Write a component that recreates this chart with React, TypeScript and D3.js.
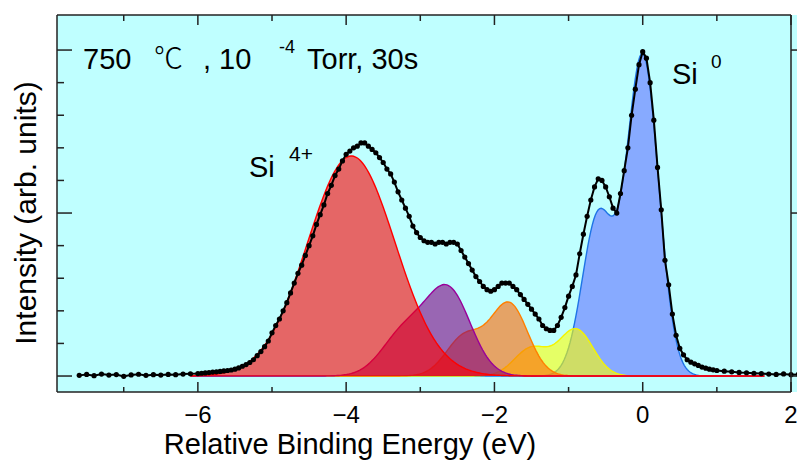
import React from "react";
import * as d3 from "d3";

const W = 797;
const H = 462;
// plot frame in page pixels
const frame = { left: 57, right: 791, top: 15, bottom: 392 };

// measured Si 2p spectrum (relative binding energy in eV, intensity in arb. units)
const energyEv = [
  -7.6, -7.5, -7.4, -7.3, -7.2, -7.1, -7.0, -6.9, -6.8, -6.7, -6.6, -6.5, -6.4, -6.3, -6.2, -6.1, -6.0,
  -5.95, -5.9, -5.85, -5.8, -5.75, -5.7, -5.65, -5.6, -5.55, -5.5, -5.45, -5.4, -5.35, -5.3, -5.25, -5.2, -5.15, -5.1, -5.05, -5.0,
  -4.95, -4.9, -4.85, -4.8, -4.75, -4.7, -4.65, -4.6, -4.55, -4.5, -4.45, -4.4, -4.35, -4.3, -4.25, -4.2, -4.15, -4.1, -4.05, -4.0,
  -3.95, -3.9, -3.85, -3.8, -3.75, -3.7, -3.65, -3.6, -3.55, -3.5, -3.45, -3.4, -3.35, -3.3, -3.25, -3.2, -3.15, -3.1, -3.05, -3.0,
  -2.95, -2.9, -2.85, -2.8, -2.75, -2.7, -2.65, -2.6, -2.55, -2.5, -2.45, -2.4, -2.35, -2.3, -2.25, -2.2, -2.15, -2.1, -2.05, -2.0,
  -1.95, -1.9, -1.85, -1.8, -1.75, -1.7, -1.65, -1.6, -1.55, -1.5, -1.45, -1.4, -1.35, -1.3, -1.25, -1.2, -1.15, -1.1, -1.05, -1.0,
  -0.95, -0.9, -0.85, -0.8, -0.75, -0.7, -0.65, -0.6, -0.55, -0.5, -0.45, -0.4, -0.35, -0.3, -0.25, -0.2, -0.15, -0.1, -0.05, 0.0,
  0.05, 0.1, 0.15, 0.2, 0.25, 0.3, 0.35, 0.4, 0.45, 0.5, 0.55, 0.6, 0.65, 0.7, 0.75, 0.8, 0.85, 0.9, 0.95, 1.0,
  1.1, 1.2, 1.3, 1.4, 1.5, 1.6, 1.7, 1.8, 1.9, 2.0, 2.1,
];
const intensity = [
  0.004, 0.01, 0.002, 0.012, 0.006, 0.009, -0.002, 0.007, 0.011, 0.004, 0.008, 0.006, 0.01, 0.008, 0.012, 0.014, 0.015,
  0.017, 0.019, 0.021, 0.024, 0.026, 0.028, 0.031, 0.034, 0.037, 0.042, 0.05, 0.06, 0.07, 0.083, 0.1, 0.125, 0.15, 0.18, 0.215, 0.265,
  0.31, 0.35, 0.4, 0.45, 0.51, 0.57, 0.63, 0.68, 0.74, 0.8, 0.86, 0.93, 0.99, 1.05, 1.12, 1.17, 1.23, 1.27, 1.32, 1.36,
  1.38, 1.4, 1.41, 1.43, 1.43, 1.41, 1.39, 1.37, 1.34, 1.31, 1.27, 1.24, 1.19, 1.13, 1.08, 1.03, 0.98, 0.92, 0.88, 0.85,
  0.83, 0.82, 0.82, 0.81, 0.82, 0.82, 0.81, 0.82, 0.82, 0.81, 0.77, 0.73, 0.69, 0.65, 0.61, 0.58, 0.55, 0.53, 0.52, 0.53,
  0.55, 0.57, 0.57, 0.57, 0.55, 0.53, 0.5, 0.47, 0.44, 0.41, 0.38, 0.35, 0.31, 0.29, 0.28, 0.28, 0.31, 0.36, 0.42, 0.49,
  0.55, 0.62, 0.75, 0.87, 0.98, 1.08, 1.16, 1.21, 1.2, 1.16, 1.1, 1.03, 1.0, 1.12, 1.26, 1.4, 1.6, 1.76, 1.91, 1.99,
  1.95, 1.8, 1.57, 1.28, 1.02, 0.71, 0.56, 0.38, 0.25, 0.17, 0.13, 0.1, 0.085, 0.075, 0.065, 0.055, 0.048, 0.042, 0.038, 0.034,
  0.03, 0.026, 0.022, 0.02, 0.017, 0.015, 0.012, 0.01, 0.013, 0.008, 0.01,
];

// fitted components, Si0 .. Si4+ (2p3/2 position, height, gaussian sigma, 2p1/2 share)
const componentPos = [0, -0.9, -1.8, -2.62, -3.93];
const componentAmp = [1.96, 0.285, 0.44, 0.52, 1.35];
const componentSigma = [0.215, 0.23, 0.25, 0.3, 0.59];
const componentRatio = [0.5, 0.6, 0.55, 0.5, 0];
const spinOrbitSplit = 0.6;
const componentFill = ["#6371ff", "#ffff00", "#ff6600", "#800080", "#ff0000"];
const componentStroke = ["#1e74e6", "#f4f400", "#ff7f00", "#990099", "#ff0000"];
const componentRange = [-6.1, 1.65];

const xMajor = [-6, -4, -2, 0, 2];
const xMinor = [-7, -5, -3, -1, 1];
const yMajor = [0, 1, 2];
const yMinor = [0.2, 0.4, 0.6, 0.8, 1.2, 1.4, 1.6, 1.8];

const FONT = "'Liberation Sans', Arial, 'Noto Sans CJK SC', sans-serif";

const x = d3.scaleLinear().domain([-7.9, 2.0]).range([frame.left, frame.right]);
const y = d3.scaleLinear().domain([-0.098, 2.215]).range([frame.bottom, frame.top]);

function componentValue(i: number, e: number) {
  const s2 = 2 * componentSigma[i] * componentSigma[i];
  const a = componentAmp[i];
  const d1 = e - componentPos[i];
  const d2 = e - (componentPos[i] - spinOrbitSplit);
  return a * Math.exp(-(d1 * d1) / s2) + a * componentRatio[i] * Math.exp(-(d2 * d2) / s2);
}

export default function App() {
  const grid = d3.range(componentRange[0], componentRange[1] + 1e-9, 0.02);
  const compArea = d3
    .area<number[]>()
    .x(d => x(d[0]))
    .y0(y(0))
    .y1(d => y(d[1]));
  const compLine = d3
    .line<number[]>()
    .x(d => x(d[0]))
    .y(d => y(d[1]));

  const points = energyEv.map((e, i) => [e, intensity[i]] as [number, number]);
  const dataLine = d3
    .line<[number, number]>()
    .x(d => x(d[0]))
    .y(d => y(d[1]));

  return (
    <svg width={W} height={H} style={{ display: "block", position: "absolute", left: 0, top: 0 }}>
      <rect x={0} y={0} width={W} height={H} fill="#ffffff" />
      <rect
        x={frame.left}
        y={frame.top}
        width={W - frame.left}
        height={frame.bottom - frame.top}
        fill="#bfffff"
      />

      {/* components, drawn from Si0 up to Si4+ so the red one sits on top */}
      {componentPos.map((_, i) => {
        const pts = grid.map(e => [e, componentValue(i, e)]);
        return (
          <g key={i}>
            <path d={compArea(pts) || ""} fill={componentFill[i]} fillOpacity={0.6} />
            <path d={compLine(pts) || ""} fill="none" stroke={componentStroke[i]} strokeWidth={1.4} />
          </g>
        );
      })}

      {/* measured data */}
      <path d={dataLine(points) || ""} fill="none" stroke="#000" strokeWidth={2} />
      {points.map((d, i) => (
        <circle key={i} cx={x(d[0])} cy={y(d[1])} r={2.6} fill="#000" />
      ))}

      {/* frame */}
      <g stroke="#222" strokeWidth={1.5} fill="none">
        <line x1={frame.left} x2={frame.left} y1={frame.top} y2={frame.bottom} />
        <line x1={frame.left} x2={frame.right} y1={frame.bottom} y2={frame.bottom} />
        <line x1={frame.left} x2={frame.right} y1={frame.top} y2={frame.top} />
        <line x1={frame.right} x2={frame.right} y1={frame.top} y2={frame.bottom} />
        {xMajor.map(t => (
          <g key={"xM" + t}>
            <line x1={x(t)} x2={x(t)} y1={frame.bottom} y2={frame.bottom - 10} />
            <line x1={x(t)} x2={x(t)} y1={frame.top} y2={frame.top + 10} />
          </g>
        ))}
        {xMinor.map(t => (
          <g key={"xm" + t}>
            <line x1={x(t)} x2={x(t)} y1={frame.bottom} y2={frame.bottom - 5} />
            <line x1={x(t)} x2={x(t)} y1={frame.top} y2={frame.top + 6} />
          </g>
        ))}
        {yMajor.map(t => (
          <g key={"yM" + t}>
            <line x1={frame.left} x2={frame.left + 15} y1={y(t)} y2={y(t)} />
            <line x1={frame.right} x2={frame.right + 7} y1={y(t)} y2={y(t)} />
          </g>
        ))}
        {yMinor.map(t => (
          <g key={"ym" + t}>
            <line x1={frame.left} x2={frame.left + 7} y1={y(t)} y2={y(t)} />
          </g>
        ))}
      </g>

      {/* tick labels */}
      <g fontFamily={FONT} fontSize={24} fill="#000" textAnchor="middle">
        {xMajor.map(t => (
          <text key={t} x={x(t)} y={423}>
            {t < 0 ? "\u2212" + Math.abs(t) : String(t)}
          </text>
        ))}
      </g>

      {/* axis titles */}
      <text x={350} y={454} fontFamily={FONT} fontSize={29} textAnchor="middle" fill="#000">
        Relative Binding Energy (eV)
      </text>
      <text
        transform={`translate(36, 213) rotate(-90)`}
        fontFamily={FONT}
        fontSize={30}
        textAnchor="middle"
        fill="#000"
      >
        Intensity (arb. units)
      </text>

      {/* annotations */}
      <g fontFamily={FONT} fill="#000">
        <text x={83} y={69} fontSize={29}>750</text>
        <text x={154} y={69} fontSize={29} fontWeight={300}>℃</text>
        <text x={203} y={69} fontSize={29}>, 10</text>
        <text x={279} y={53} fontSize={18}>-4</text>
        <text x={307} y={69} fontSize={29}>Torr, 30s</text>
        <text x={249} y={177} fontSize={29}>Si</text>
        <text x={289} y={161} fontSize={21}>4+</text>
        <text x={672} y={84} fontSize={29}>Si</text>
        <text x={711} y={68} fontSize={19}>0</text>
      </g>
    </svg>
  );
}
